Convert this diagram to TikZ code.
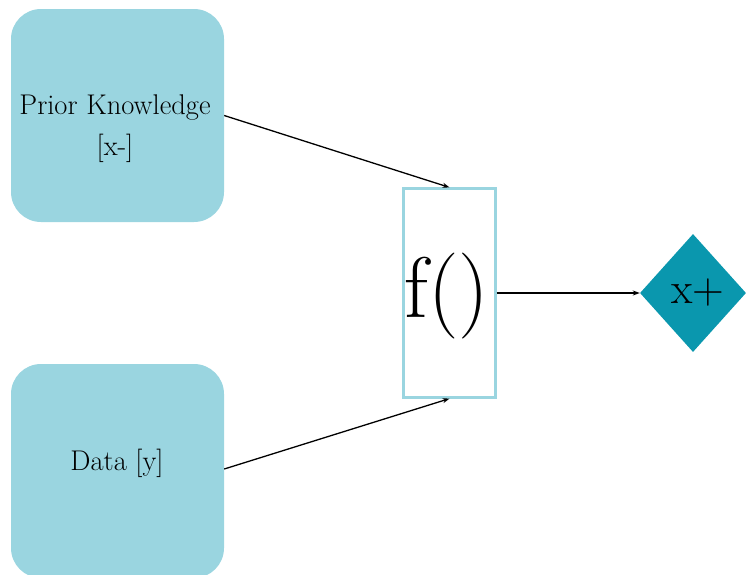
\documentclass[tikz,border=0pt]{standalone}
\usetikzlibrary{arrows.meta,shapes.geometric}
\definecolor{boxblue}{HTML}{9AD5E0}
\definecolor{tealc}{HTML}{0A97AE}
\tikzset{
  srcbox/.style={fill=boxblue, draw=none, rounded corners=30pt, minimum width=213pt, inner sep=0pt},
  fbox/.style={draw=boxblue, line width=2.2pt, fill=white, minimum width=92pt, minimum height=209pt, inner sep=0pt},
  outdiamond/.style={diamond, fill=tealc, draw=none, minimum width=106pt, minimum height=118pt, inner sep=0pt},
  conn/.style={line width=1.3pt, -{Stealth[length=7pt,width=5pt]}},
  lbl/.style={font=\fontsize{28.5}{41}\selectfont, align=center, inner sep=0pt}
}
\begin{document}
\begin{tikzpicture}[x=1pt,y=-1pt]
\useasboundingbox (0,0) rectangle (747,574);
\node[srcbox, minimum height=213pt] (prior) at (117.5,115.5) {};
\node[lbl] (priortext) at (115,129) {Prior Knowledge\\{}[x-]};
\node[srcbox, minimum height=214pt] (data) at (117.5,471) {};
\node[lbl] (datatext) at (117,463) {Data [y]};
\node[fbox] (f) at (449.5,293) {};
\node[inner sep=0pt, font=\fontsize{86}{90}\selectfont] (ftext) at (447,296) {f()};
\node[outdiamond] (xp) at (693,293) {};
\node[inner sep=0pt, font=\fontsize{44}{48}\selectfont] (xptext) at (698,293) {x+};
\draw[conn] (prior.east) -- (f.north);
\draw[conn] (data.east |- 0,469) -- (f.south);
\draw[conn] (f.east) -- (xp.west);
\end{tikzpicture}
\end{document}
